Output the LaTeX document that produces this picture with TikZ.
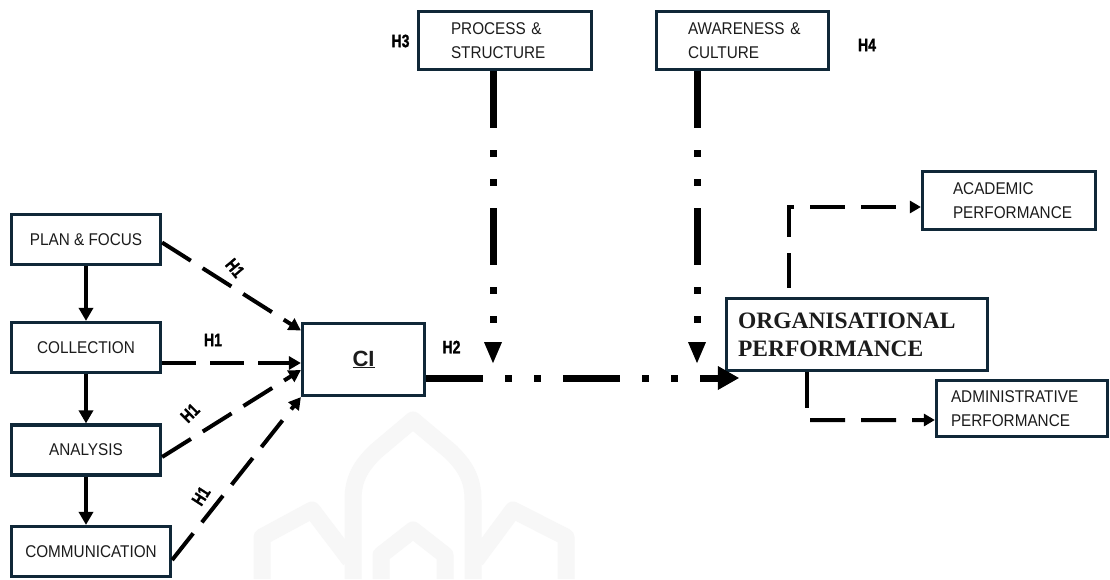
\documentclass[tikz,border=0pt]{standalone}
\usepackage{fontspec}
\setmainfont{Liberation Sans}
\newfontfamily\boxfont[FakeStretch=0.9]{Liberation Sans}
\newfontfamily\titlefont{Liberation Serif}
\newfontfamily\tagfont[FakeStretch=0.78,FakeBold=1.2]{Liberation Sans}
\usetikzlibrary{arrows.meta,calc}
\definecolor{boxc}{RGB}{16,40,56}
\definecolor{ink}{RGB}{28,28,28}
\definecolor{wm}{RGB}{247,247,247}

\begin{document}
\begin{tikzpicture}[x=1pt,y=-1pt,
  box/.style={draw=boxc,line width=3.2pt,fill=white,inner sep=0pt,text=ink,
    font=\boxfont\fontsize{17}{24}\selectfont},
  stage/.style={box,minimum width=149pt,minimum height=50pt,align=center},
  tagtext/.style={font=\tagfont\bfseries\fontsize{18}{18}\selectfont,inner sep=0pt,text=black},
  seqarrow/.style={line width=3.5pt,-{Triangle[length=13pt,width=14pt]}},
  hypline/.style={line width=4pt,dash pattern=on 34pt off 14pt,-{Triangle[length=12pt,width=13pt]}},
  outline/.style={line width=4pt,dash pattern=on 35pt off 16pt,-{Triangle[length=11pt,width=12pt]}},
  mainlink/.style={line width=7pt,dash pattern=on 57pt off 22pt on 7pt off 22pt on 7pt off 22pt},
  emblem/.style={line width=17pt,draw=wm,line join=round}
]
\useasboundingbox[fill=white] (0,0) rectangle (1110,579);

% faint emblem in the background
\draw[emblem] (353,579) -- (353,500) to[out=90,in=225] (375,452) -- (413,420) -- (451,452) to[out=-45,in=90] (473,500) -- (473,579);
\draw[emblem] (381,579) -- (381,555) -- (413,530) -- (445,555) -- (445,579);
\draw[emblem] (262,579) -- (262,537) -- (312,510) -- (350,560);
\draw[emblem] (566,579) -- (566,537) -- (513,510) -- (476,560);

% process stages
\node[stage] (plan) at (86,239.5) {PLAN \& FOCUS};
\node[stage] (coll) at (86,347.5) {COLLECTION};
\node[stage] (anal) at (86,450) {ANALYSIS};
\node[stage,minimum width=159pt] (comm) at (91,551.5) {COMMUNICATION};

% central construct
\node[box,minimum width=122pt,minimum height=72pt,font=\bfseries\fontsize{22}{22}\selectfont] (ci) at (363.5,359.5) {\raisebox{-5pt}{\underline{CI}}};

% moderators
\node[box,minimum width=173pt,minimum height=58pt,text width=108pt,align=left] (proc) at (505,40.5) {\mbox{PROCESS \&}\\\mbox{STRUCTURE}};
\node[box,minimum width=172pt,minimum height=58pt,text width=109pt,align=left] (aware) at (742.5,40.5) {\mbox{AWARENESS \&}\\\mbox{CULTURE}};

% outcomes
\node[box,minimum width=261pt,minimum height=72pt,text width=238pt,align=left,
  font=\titlefont\bfseries\fontsize{23.5}{28}\selectfont] (org) at (857,334.5) {\mbox{ORGANISATIONAL}\\\mbox{PERFORMANCE}};
\node[box,minimum width=173pt,minimum height=58pt,text width=112pt,align=left] (acad) at (1009,200.5) {\mbox{ACADEMIC}\\\mbox{PERFORMANCE}};
\node[box,minimum width=171pt,minimum height=56pt,text width=142pt,align=left] (admin) at (1022,408.5) {\mbox{ADMINISTRATIVE}\\\mbox{PERFORMANCE}};

% sequence of stages
\draw[seqarrow] (plan.south) -- (coll.north);
\draw[seqarrow] (coll.south) -- (anal.north);
\draw[seqarrow] (anal.south) -- (anal.south |- comm.north);

% H1 links into CI
\draw[hypline] ([yshift=-3pt]plan.east) -- ([yshift=29pt]ci.west);
\draw[hypline] ([yshift=-15.5pt]coll.east) -- ([yshift=-3.5pt]ci.west);
\draw[hypline] ([yshift=-7pt]anal.east) -- ([yshift=-10.5pt]ci.west);
\draw[hypline] ([yshift=-8.5pt]comm.east) -- (ci.south west);

% H2 link and moderating links
\coordinate (orgin) at ([xshift=14pt,yshift=-43.5pt]org.west);
\draw[mainlink,-{Triangle[length=21pt,width=24pt,line width=0pt]}] ([yshift=-18.5pt]ci.east) -- (orgin);
\coordinate (h3end) at ([xshift=-12pt,yshift=-292pt]proc.south);
\coordinate (h4end) at ([xshift=-45.5pt,yshift=-292pt]aware.south);
\draw[mainlink,-{Triangle[length=21pt,width=18pt,line width=0pt]}] ([xshift=-12pt]proc.south) -- (h3end);
\draw[mainlink,-{Triangle[length=21pt,width=18pt,line width=0pt]}] ([xshift=-45.5pt]aware.south) -- (h4end);

% outcome dimensions
\draw[outline] ([xshift=-68pt,yshift=9pt]org.north) |- ([yshift=-6.5pt]acad.west);
\coordinate (admbend) at ([xshift=-50pt,yshift=-36pt]org.south);
\draw[line width=4pt] ([xshift=-50pt]org.south) -- (admbend);
\draw[outline] ([xshift=3pt,yshift=-12pt]admbend) -- ([yshift=-11.5pt]admin.west);

% hypothesis tags
\node[tagtext,rotate=-50] (t1a) at (235,268) {H1};
\node[tagtext] (t1b) at (213,340) {H1};
\node[tagtext,rotate=45] (t1c) at (190,413) {H1};
\node[tagtext,rotate=57] (t1d) at (201,496) {H1};
\node[tagtext] (t2) at (451.5,347) {H2};
\node[tagtext] (t3) at (400.5,41) {H3};
\node[tagtext] (t4) at (867,45) {H4};
\end{tikzpicture}
\end{document}
